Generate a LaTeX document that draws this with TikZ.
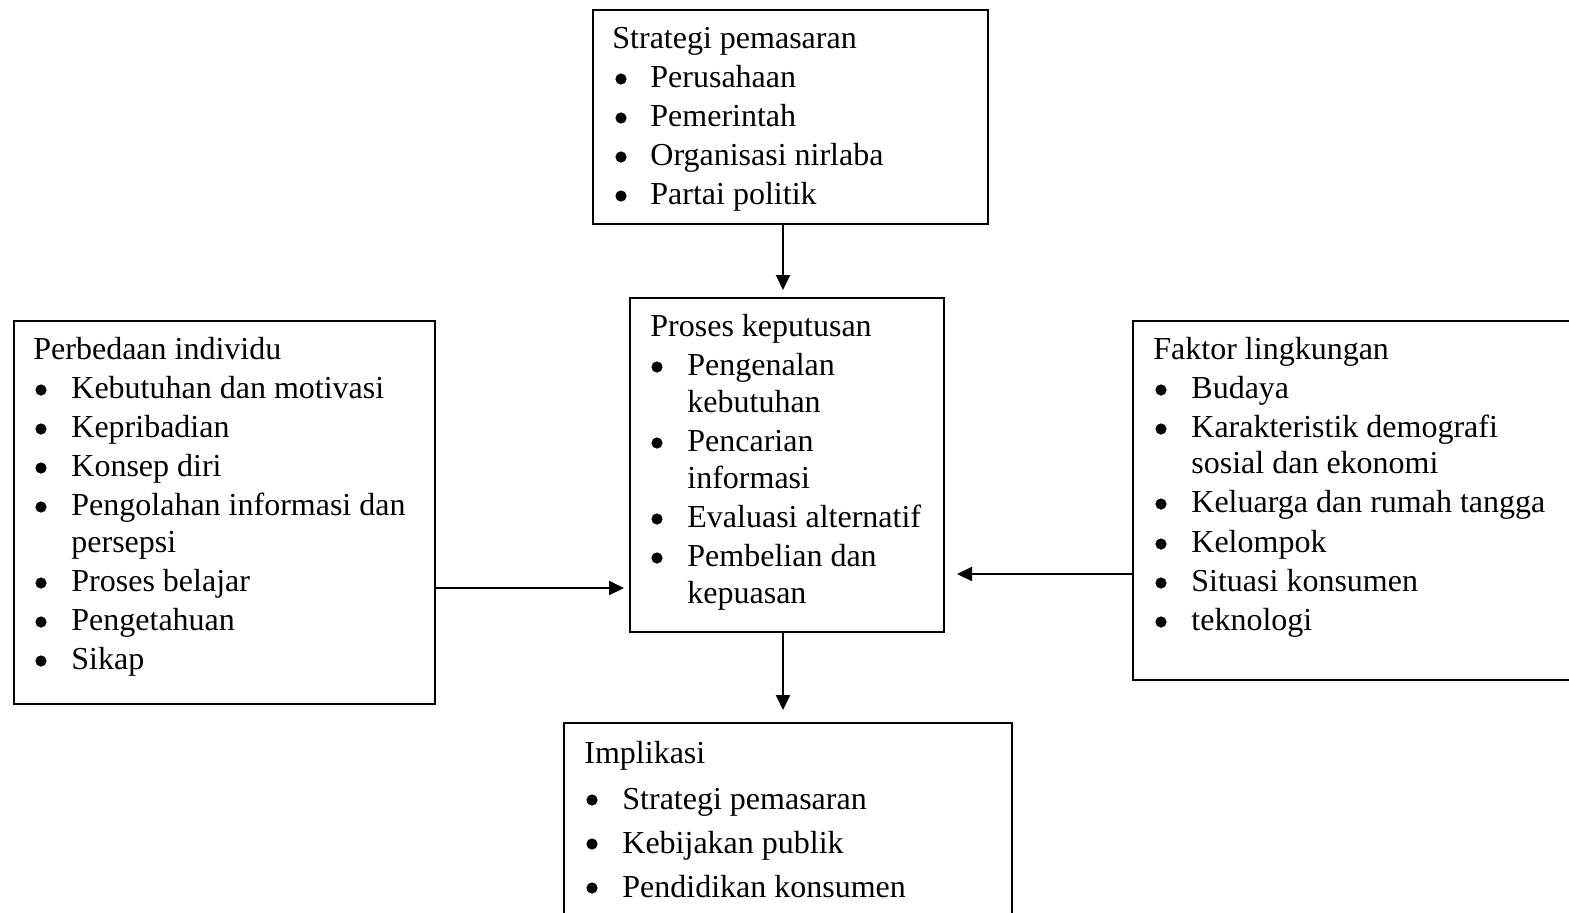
\documentclass[tikz,border=0pt]{standalone}
\usepackage{fontspec}
\setmainfont{Liberation Serif}
\usetikzlibrary{arrows.meta}
\begin{document}
\begin{tikzpicture}[x=0.5pt,y=-0.5pt,
  box/.style={draw,line width=1pt,rectangle,inner sep=0pt,anchor=north west},
  txt/.style={anchor=base west,inner sep=0pt,font=\fontsize{16}{19.5}\selectfont},
  dot/.style={circle,fill,inner sep=0pt,minimum size=5.6pt},
  arr/.style={line width=1pt,-{Triangle[length=7.5pt,width=7pt]}}]
\clip (0,0) rectangle (1569,912);
\useasboundingbox (0,0) rectangle (1569,912);

% boxes
\node[box,minimum width=197.5pt,minimum height=107pt] (strat) at (592,9) {};
\node[box,minimum width=157pt,minimum height=167pt] (proc) at (629,297) {};
\node[box,minimum width=210.5pt,minimum height=191.5pt] (indiv) at (13,320) {};
\node[box,minimum width=230pt,minimum height=179.5pt] (env) at (1132,320) {};
\node[box,minimum width=224pt,minimum height=110pt] (impl) at (563,722) {};

% Strategi pemasaran
\node[txt] (st0) at (612,48) {Strategi pemasaran};
\foreach \y/\t [count=\i] in {78/Perusahaan,117/Pemerintah,156/Organisasi nirlaba,195/Partai politik}{
  \node[dot] (sb\i) at (621,\y+1) {};
  \node[txt] (st\i) at (650,\y+9) {\t};
}

% Proses keputusan
\node[txt] (pt0) at (650,336) {Proses keputusan};
\foreach \y/\t [count=\i] in {366/Pengenalan,442/Pencarian,518/Evaluasi alternatif,557/Pembelian dan}{
  \node[dot] (pb\i) at (657,\y+1) {};
  \node[txt] (pt\i) at (687,\y+9) {\t};
}
\node[txt] (pc1) at (687,412) {kebutuhan};
\node[txt] (pc2) at (687,488) {informasi};
\node[txt] (pc3) at (687,603) {kepuasan};

% Perbedaan individu
\node[txt] (it0) at (33,359) {Perbedaan individu};
\foreach \y/\t [count=\i] in {389/Kebutuhan dan motivasi,428/Kepribadian,467/Konsep diri,506/Pengolahan informasi dan,582/Proses belajar,621/Pengetahuan,660/Sikap}{
  \node[dot] (ib\i) at (41,\y+1) {};
  \node[txt] (it\i) at (71,\y+9) {\t};
}
\node[txt] (ic1) at (71,552) {persepsi};

% Faktor lingkungan
\node[txt] (et0) at (1153,359) {Faktor lingkungan};
\foreach \y/\t [count=\i] in {389/Budaya,428/Karakteristik demografi,503/Keluarga dan rumah tangga,543/Kelompok,582/Situasi konsumen,621/teknologi}{
  \node[dot] (eb\i) at (1161,\y+1) {};
  \node[txt] (et\i) at (1191,\y+9) {\t};
}
\node[txt] (ec1) at (1191,473) {sosial dan ekonomi};

% Implikasi
\node[txt] (mt0) at (584,763) {Implikasi};
\foreach \y/\t [count=\i] in {798/Strategi pemasaran,842/Kebijakan publik,886/Pendidikan konsumen}{
  \node[dot] (mb\i) at (592,\y+2) {};
  \node[txt] (mt\i) at (622,\y+11) {\t};
}

% connectors
\coordinate (ax) at (783,0);
\coordinate (ayl) at (0,588);
\coordinate (ayr) at (0,574);
\draw[arr,shorten >=3.5pt] (strat.south -| ax) -- (proc.north -| ax);
\draw[arr,shorten >=6pt] (proc.south -| ax) -- (impl.north -| ax);
\draw[arr,shorten >=2.5pt] (indiv.east |- ayl) -- (proc.west |- ayl);
\draw[arr,shorten >=6pt] (env.west |- ayr) -- (proc.east |- ayr);
\end{tikzpicture}
\end{document}
